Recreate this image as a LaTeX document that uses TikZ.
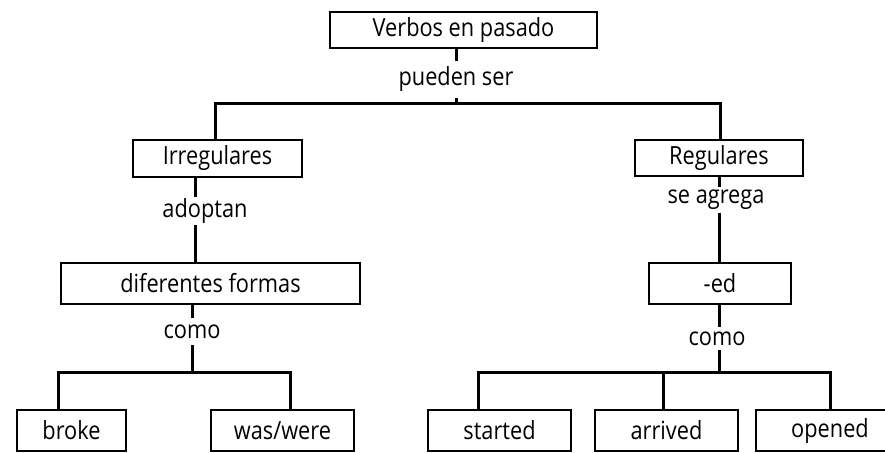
\documentclass[tikz,border=0pt]{standalone}
\usepackage{fontspec}
\setmainfont{Open Sans}[FakeStretch=0.87]
\begin{document}
\begin{tikzpicture}[x=1pt,y=-1pt,
  box/.style={draw, line width=1.3pt, inner sep=0pt},
  conn/.style={line width=3pt},
  lbl/.style={fill=white, inner xsep=2pt, inner ysep=0pt},
  font=\fontsize{25}{29}\selectfont]
\useasboundingbox (0,0) rectangle (885,452);
\clip (0,0) rectangle (885,452);
% boxes
\node[box, minimum width=267, minimum height=36] (v) at (463.5,30) {Verbos en pasado\hspace{6pt}};
\node[box, minimum width=169, minimum height=37] (irr) at (217.5,158.5) {Irregulares};
\node[box, minimum width=168, minimum height=36] (reg) at (719,158) {Regulares};
\node[box, minimum width=299, minimum height=41] (dif) at (210.5,283.5) {diferentes formas};
\node[box, minimum width=142, minimum height=41] (ed) at (720,283.5) {-ed};
\node[box, minimum width=109, minimum height=41] (broke) at (71.5,430.5) {broke\hspace{12pt}};
\node[box, minimum width=143, minimum height=41] (was) at (282.5,430.5) {was/were};
\node[box, minimum width=143, minimum height=41] (started) at (499.5,430.5) {started};
\node[box, minimum width=143, minimum height=41] (arrived) at (666.5,430.5) {arrived};
\node[box, minimum width=148, minimum height=41] (opened) at (830,430.5) {opened};
% junctions
\coordinate (j1) at (456,103);
\coordinate (j2) at (192,372);
\coordinate (j3) at (719,372);
% connectors
\draw[conn] (v.south -| j1) -- (j1);
\draw[conn] ([xshift=-2.5pt]irr.north) |- (j1) -| ([xshift=1pt]reg.north);
\draw[conn] ([xshift=-22.5pt]irr.south) -- ([xshift=-15.5pt]dif.north);
\draw[conn] (dif.south -| j2) -- (j2);
\draw[conn] ([xshift=-13.5pt]broke.north) |- (j2) -| ([xshift=7.5pt]was.north);
\draw[conn] (reg.south) -- (reg.south |- ed.north);
\draw[conn] (ed.south -| j3) -- (j3);
\draw[conn] ([xshift=-21.5pt]started.north) |- (j3) -| (opened.north);
\draw[conn] ([xshift=-3.5pt]arrived.north) -- ([xshift=-3.5pt]arrived.north |- j3);
% labels
\node[lbl, minimum height=37] (p1) at (456,79.5) {pueden ser};
\node[lbl, minimum height=28] (a1) at (205,211) {adoptan};
\node[lbl, minimum height=26] (s1) at (716,200) {se agrega};
\node[lbl, minimum height=27] (c1) at (192,331.5) {como};
\node[lbl, minimum height=23] (c2) at (717,338.5) {como};
\end{tikzpicture}
\end{document}
